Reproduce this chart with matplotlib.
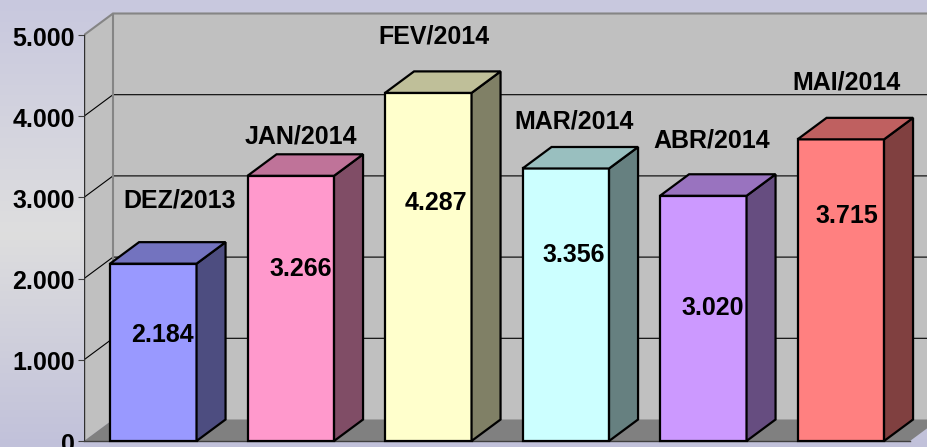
import numpy as np
import matplotlib
matplotlib.use("Agg")
import matplotlib.pyplot as plt
from matplotlib.patches import Polygon
from matplotlib.transforms import ScaledTranslation

# --- data ---
categories = ["DEZ/2013", "JAN/2014", "FEV/2014", "MAR/2014", "ABR/2014", "MAI/2014"]
values = [2184, 3266, 4287, 3356, 3020, 3715]
value_labels = ["2.184", "3.266", "4.287", "3.356", "3.020", "3.715"]
y_ticks = [0, 1000, 2000, 3000, 4000, 5000]
y_tick_labels = ["0", "1.000", "2.000", "3.000", "4.000", "5.000"]
bar_colors = ["#9999ff", "#ff99cc", "#ffffcc", "#ccffff", "#cc99ff", "#ff8080"]

# --- layout (label anchors in data units) ---
cat_label_dx = [0.19, 0.07, 0.04, 0.06, 0.06, 0.04]
cat_label_y = [2960, 3750, 4985, 3940, 3700, 4420]
val_label_dx = [0.07, 0.07, 0.055, 0.06, 0.07, 0.045]
val_label_y = [1300, 2120, 2925, 2290, 1640, 2765]

W, H = 927, 447
DPI = 100
PX_X = 137.5      # pixels per category
PX_Y = 0.0812     # pixels per value unit
LEFT, BASE = 84, 441
X0 = 153.3        # pixel centre of the first bar
BAR_W = 86.5 / PX_X
DX = 29 / PX_X
DY = 21.5 / PX_Y
FONT = "Liberation Sans"
FS = 18.0

fig = plt.figure(figsize=(W / DPI, H / DPI), dpi=DPI)

# background gradient
bg = fig.add_axes([0, 0, 1, 1], zorder=-1)
top = np.array([200, 200, 222]); mid = np.array([222, 222, 222]); bot = np.array([193, 193, 218])
t = np.linspace(0, 1, H)
grad = np.stack([np.interp(t, [0, 0.52, 1], [top[c], mid[c], bot[c]]) for c in range(3)], axis=1)
bg.imshow(grad[:, None, :] / 255, aspect="auto")
bg.axis("off")

ax = fig.add_axes([LEFT / W, (H - BASE) / H, (W - LEFT) / W, BASE / H])
ax.patch.set_alpha(0)
ax.set_xlim((LEFT - X0) / PX_X, (W - X0) / PX_X)
ax.set_ylim(0, BASE / PX_Y)
x_l, x_r = ax.get_xlim()
front_right = x_r - 17 / PX_X
y_max = y_ticks[-1]

# walls and floor
ax.add_patch(Polygon([(x_l + DX, DY), (x_r + 1, DY), (x_r + 1, y_max + DY), (x_l + DX, y_max + DY)],
                     fc="#c0c0c0", ec="none", zorder=1))
ax.add_patch(Polygon([(x_l, 0), (x_l + DX, DY), (x_l + DX, y_max + DY), (x_l, y_max)],
                     fc="#c0c0c0", ec="none", zorder=1))
ax.add_patch(Polygon([(x_l, 0), (x_l + DX, DY), (front_right + DX, DY), (front_right, 0)],
                     fc="#808080", ec="none", zorder=1.5))

# gridlines
for v in y_ticks[1:-1]:
    ax.plot([x_l, x_l + DX, x_r], [v, v + DY, v + DY], color="black", lw=0.8, zorder=2)

# wall borders
ax.plot([x_l, x_l + DX, x_r], [y_max, y_max + DY, y_max + DY], color="#858585", lw=1.5, zorder=2.5,
        solid_joinstyle="miter")
ax.plot([x_l + DX, x_l + DX], [DY, y_max + DY], color="#858585", lw=1.5, zorder=2.5)
ax.plot([x_l, x_l], [0, y_max], color="#303030", lw=1.0, zorder=2.6)
ax.plot([x_l, front_right], [0, 0], color="#404040", lw=1.0, zorder=2.6, clip_on=False)


def shade(color, f):
    return tuple(c * f for c in matplotlib.colors.to_rgb(color))


# bars
for i, (v, c) in enumerate(zip(values, bar_colors)):
    a, b = i - BAR_W / 2, i + BAR_W / 2
    z = 3 + i * 0.01
    style = dict(ec="black", lw=1.6, joinstyle="miter", zorder=z, clip_on=False)
    ax.bar(i, v, width=BAR_W, color=c, edgecolor="black", linewidth=1.6, zorder=z, clip_on=False)
    ax.add_patch(Polygon([(b, 0), (b + DX, DY), (b + DX, v + DY), (b, v)], fc=shade(c, 0.5), **style))
    ax.add_patch(Polygon([(a, v), (a + DX, v + DY), (b + DX, v + DY), (b, v)], fc=shade(c, 0.75), **style))

# text labels
text_style = dict(family=FONT, fontweight="bold", fontsize=FS, color="black",
                  ha="center", va="center", zorder=5)
for i, lab in enumerate(categories):
    ax.text(i + cat_label_dx[i], cat_label_y[i], lab, **text_style)
for i, lab in enumerate(value_labels):
    ax.text(i + val_label_dx[i], val_label_y[i], lab, **text_style)

# axis
for s in ax.spines.values():
    s.set_visible(False)
ax.set_xticks([])
ax.set_yticks(y_ticks)
ax.set_yticklabels(y_tick_labels, family=FONT, fontweight="bold", fontsize=FS, color="black")
ax.tick_params(axis="y", length=4.3, width=0.8, color="#404040", pad=2.3)
shift = ScaledTranslation(0, -1.0 / DPI, fig.dpi_scale_trans)
for lab in ax.get_yticklabels():
    lab.set_transform(lab.get_transform() + shift)

fig.savefig("out.png", dpi=DPI)
